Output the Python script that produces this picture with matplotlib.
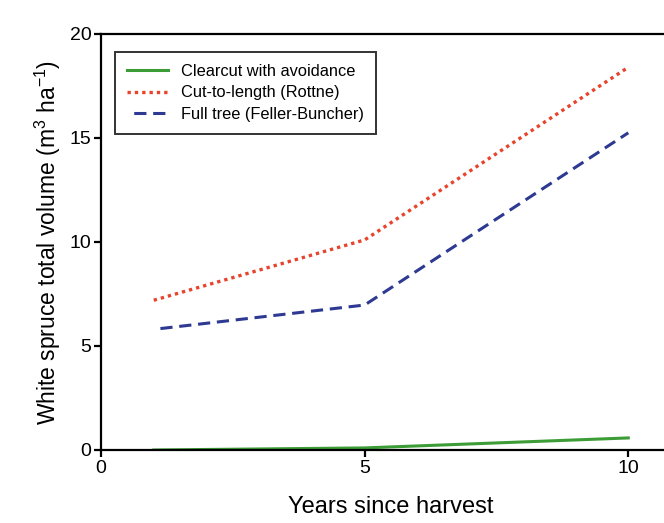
import matplotlib
matplotlib.use("Agg")
import matplotlib.pyplot as plt

plt.rcParams["font.family"] = ["Liberation Sans", "DejaVu Sans"]
plt.rcParams["mathtext.fontset"] = "custom"
plt.rcParams["mathtext.rm"] = "Liberation Sans"

years = [1, 5, 10]
clearcut = [0.0, 0.1, 0.58]
cut_to_length = [7.2, 10.1, 18.4]
full_tree = [5.8, 6.97, 15.25]

labels = ["Clearcut with avoidance", "Cut-to-length (Rottne)", "Full tree (Feller-Buncher)"]

fig = plt.figure(figsize=(6.64, 5.23), dpi=100)
ax = fig.add_axes([101 / 664, 73 / 523, 580 / 664, 416 / 523])

ax.plot(years, clearcut, color="#3c9c36", lw=2.2, label=labels[0])
ax.plot(years, cut_to_length, color="#e8432c", lw=2.4, ls=(0, (1, 1.2)), label=labels[1])
ax.plot(years, full_tree, color="#2e3a92", lw=2.2, ls=(4, (4, 2.2)), label=labels[2])

ax.set_xlim(0, 11)
ax.set_ylim(0, 20)
ax.set_xticks([0, 5, 10])
ax.set_yticks([0, 5, 10, 15, 20])

for s in ax.spines.values():
    s.set_linewidth(1.6)
ax.tick_params(direction="out", length=5, width=1.6, labelsize=14, pad=2)

ax.set_xlabel("Years since harvest", fontsize=17, labelpad=14)
ax.set_ylabel("White spruce total volume (m$^{3}$ ha$^{-1}$)", fontsize=16.5, labelpad=5)

leg = ax.legend(loc="upper left", bbox_to_anchor=(0.024, 0.957), borderaxespad=0,
                fontsize=11.8, frameon=True, fancybox=False, handlelength=2.5,
                borderpad=0.75, labelspacing=0.38, handletextpad=0.8)
leg.get_frame().set_edgecolor("black")
leg.get_frame().set_linewidth(1.4)

fig.savefig("out.png", dpi=100)
